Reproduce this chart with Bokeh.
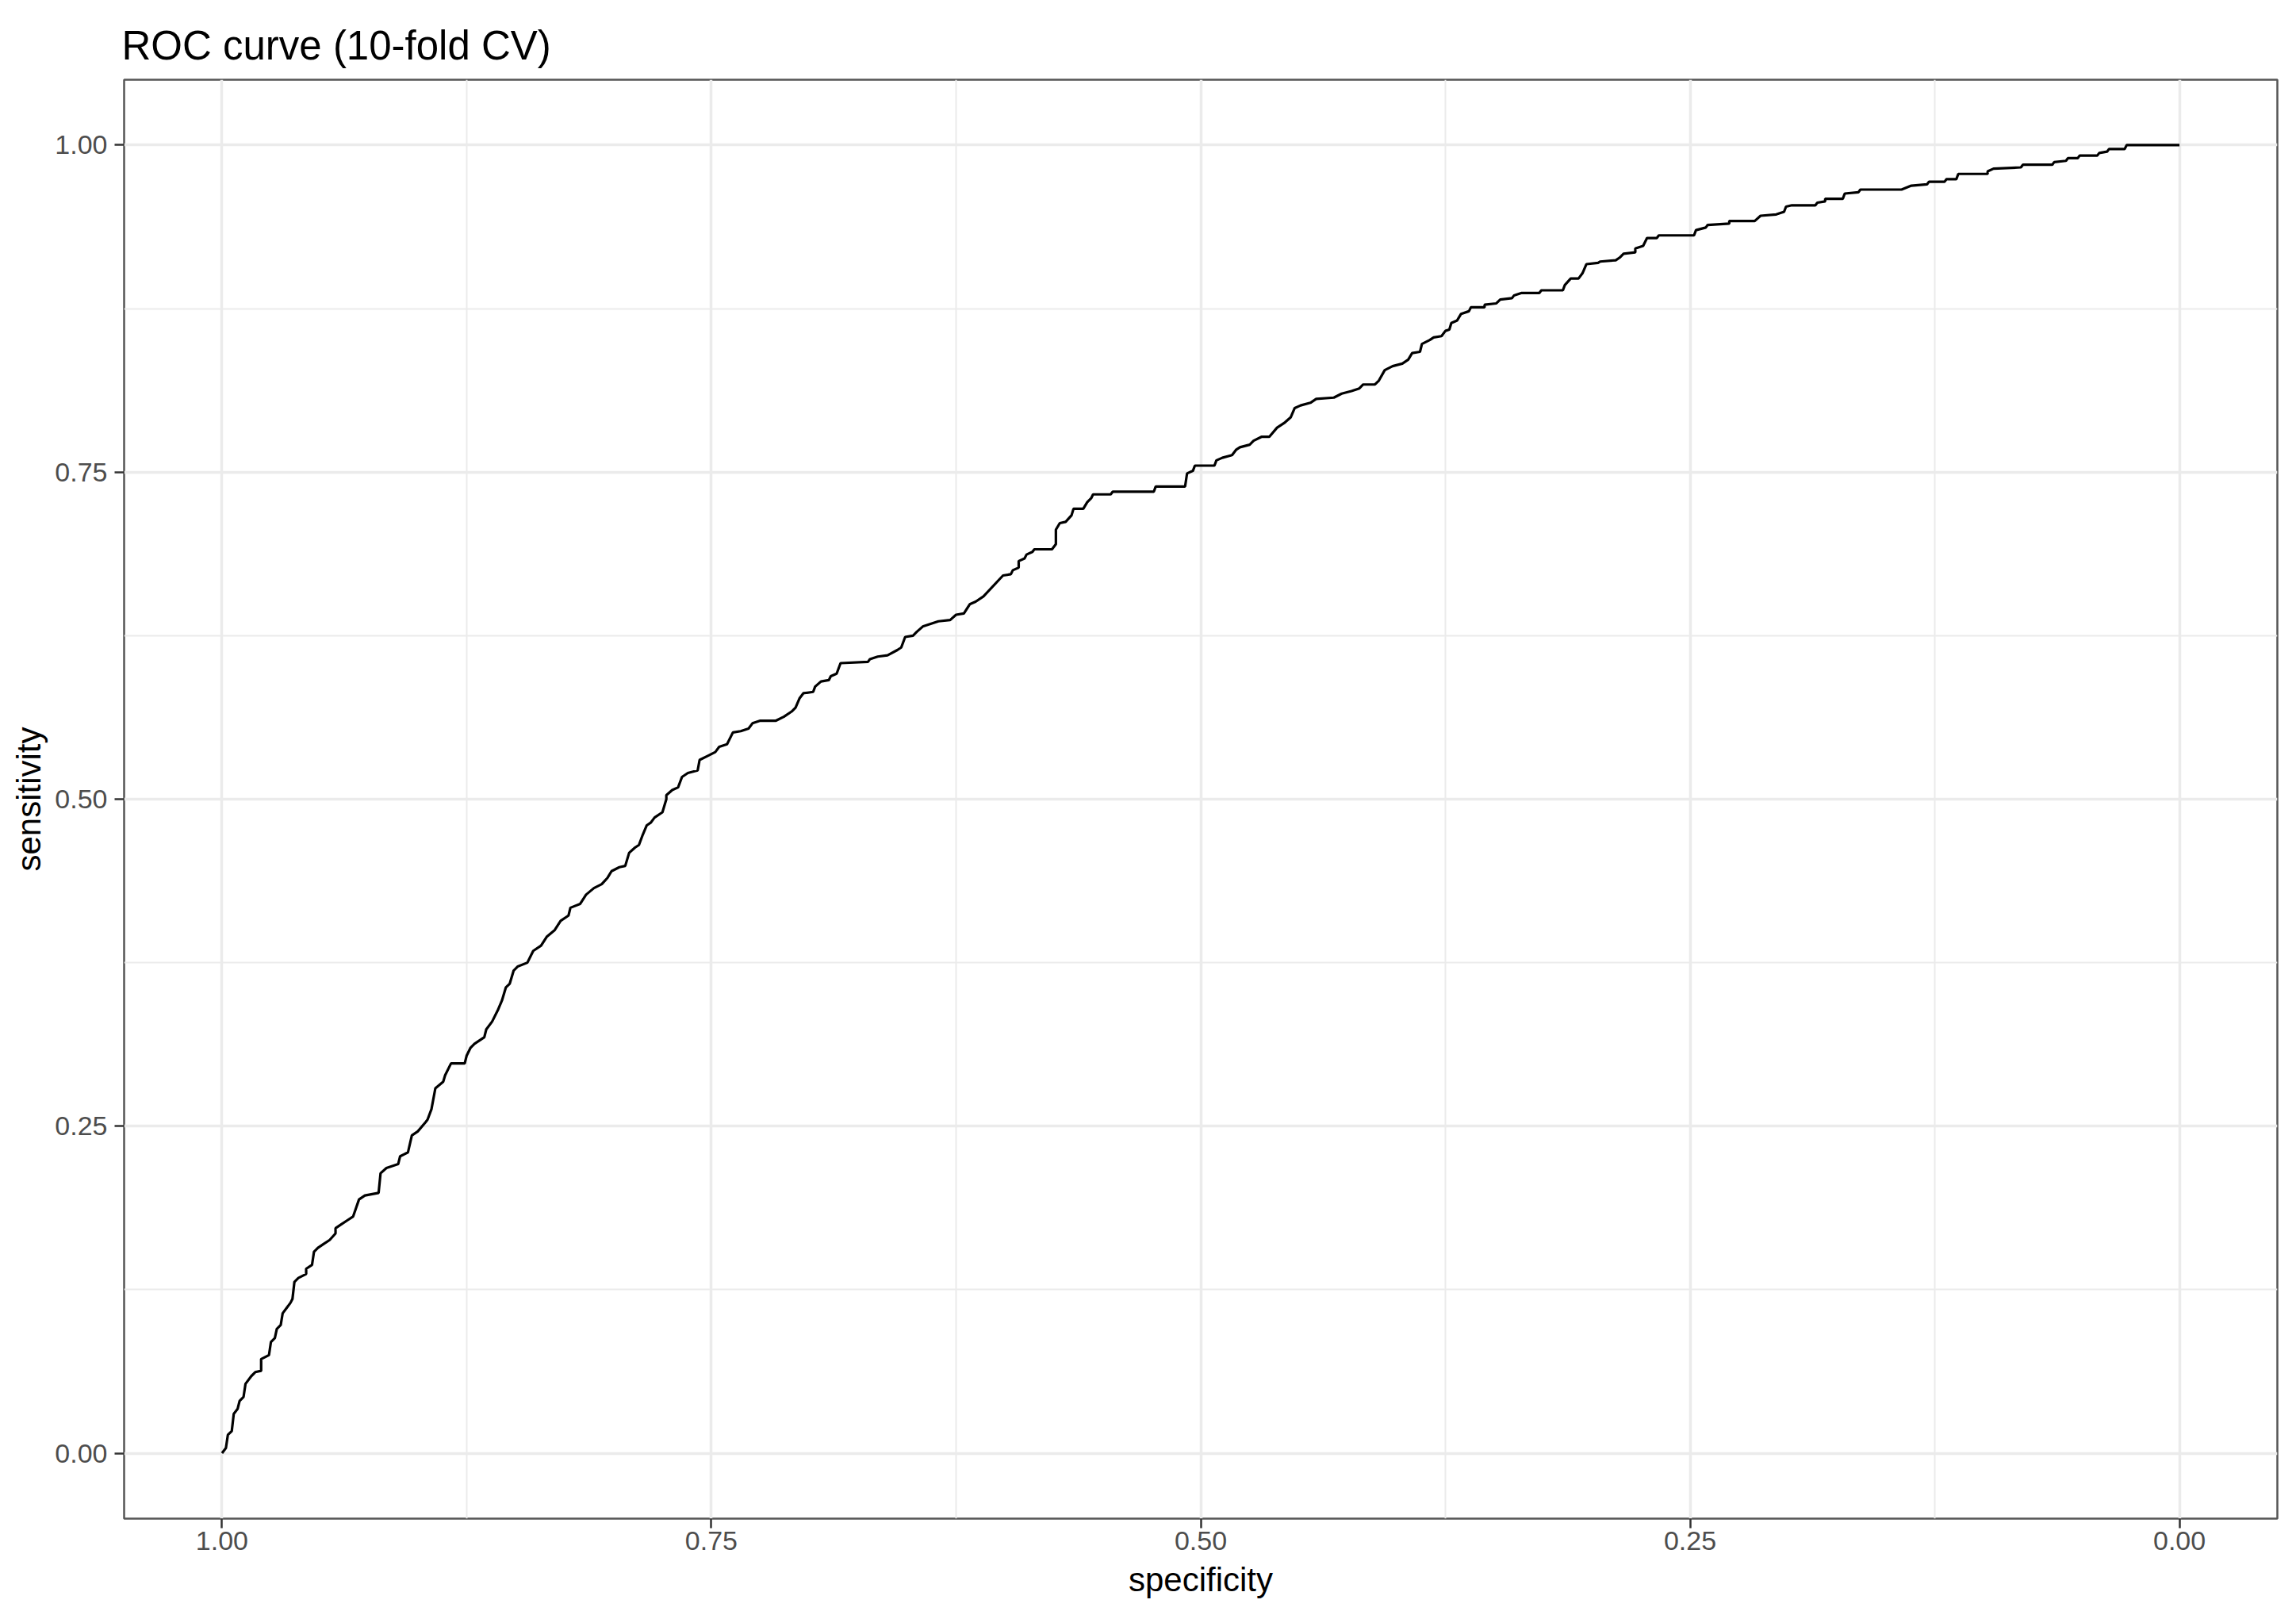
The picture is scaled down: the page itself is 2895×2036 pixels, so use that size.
from bokeh.plotting import figure
from bokeh.models import Range1d, FixedTicker, NumeralTickFormatter
from bokeh.embed import file_html
from bokeh.resources import INLINE

# ROC curve corner points (specificity decreasing)
specificity = [
    1.000, 0.998, 0.997, 0.995, 0.994, 0.992, 0.991, 0.989, 0.988, 0.985,
    0.983, 0.980, 0.980, 0.976, 0.975, 0.973, 0.972, 0.970, 0.969, 0.967,
    0.965, 0.964, 0.963, 0.961, 0.957, 0.957, 0.954, 0.953, 0.951, 0.948,
    0.945, 0.942, 0.942, 0.939, 0.936, 0.933, 0.930, 0.927, 0.920, 0.919,
    0.916, 0.910, 0.909, 0.905, 0.903, 0.900, 0.896, 0.895, 0.893, 0.891,
    0.887, 0.886, 0.883, 0.876, 0.875, 0.873, 0.871, 0.866, 0.865, 0.862,
    0.859, 0.857, 0.855, 0.853, 0.851, 0.849, 0.844, 0.841, 0.837, 0.834,
    0.830, 0.827, 0.823, 0.822, 0.817, 0.814, 0.810, 0.806, 0.803,
    0.801, 0.797, 0.794, 0.792, 0.789, 0.787, 0.785, 0.783, 0.781, 0.779,
    0.775, 0.773, 0.773, 0.770, 0.767, 0.765, 0.762, 0.757, 0.756, 0.752,
    0.748, 0.746, 0.742, 0.739, 0.735, 0.731, 0.729, 0.725, 0.717, 0.713,
    0.709, 0.707, 0.705, 0.703, 0.698, 0.697, 0.694, 0.690, 0.689, 0.686,
    0.684, 0.670, 0.669, 0.665, 0.660, 0.655, 0.653, 0.651, 0.647, 0.645,
    0.642, 0.638, 0.634, 0.628, 0.625, 0.621, 0.618, 0.615, 0.611,
    0.601, 0.597, 0.596, 0.593, 0.593, 0.590, 0.589, 0.586, 0.585, 0.576,
    0.574, 0.574, 0.572, 0.569, 0.566, 0.565, 0.560, 0.558, 0.556, 0.555,
    0.546, 0.545, 0.524, 0.523, 0.508, 0.507, 0.504, 0.503, 0.493, 0.492,
    0.489, 0.484, 0.482, 0.480, 0.475, 0.473, 0.469, 0.465, 0.461, 0.457,
    0.454, 0.452, 0.449, 0.444, 0.441, 0.432, 0.428, 0.423, 0.419, 0.417,
    0.411, 0.409, 0.406, 0.402, 0.397, 0.394,
    0.392, 0.388, 0.387, 0.383, 0.381, 0.377, 0.375, 0.373, 0.372, 0.369,
    0.367, 0.363, 0.362, 0.355, 0.355, 0.349, 0.347, 0.341, 0.340, 0.336,
    0.327, 0.326, 0.315, 0.314, 0.311, 0.307, 0.305, 0.303, 0.297, 0.296,
    0.288, 0.286, 0.284, 0.278, 0.278, 0.274, 0.272, 0.267, 0.266, 0.248,
    0.247, 0.242, 0.241, 0.230, 0.230, 0.217, 0.214, 0.206, 0.202, 0.201,
    0.198,
    0.186, 0.185, 0.181, 0.181, 0.172, 0.171, 0.164, 0.163, 0.158, 0.142,
    0.137, 0.129, 0.128, 0.120, 0.119, 0.114, 0.113, 0.098, 0.098, 0.095,
    0.081, 0.080, 0.065, 0.064, 0.058, 0.057, 0.052, 0.051, 0.042, 0.041,
    0.037, 0.036, 0.028, 0.027, 0.000,
]
sensitivity = [
    0.000, 0.004, 0.014, 0.017, 0.030, 0.034, 0.040, 0.043, 0.053, 0.059,
    0.062, 0.063, 0.072, 0.075, 0.085, 0.088, 0.095, 0.098, 0.107, 0.111,
    0.115, 0.118, 0.131, 0.134, 0.137, 0.141, 0.144, 0.154, 0.157, 0.160,
    0.163, 0.168, 0.172, 0.175, 0.178, 0.181, 0.194, 0.197, 0.199, 0.214,
    0.218, 0.221, 0.227, 0.230, 0.243, 0.246, 0.253, 0.255, 0.263, 0.279,
    0.284, 0.289, 0.298, 0.298, 0.304, 0.310, 0.313, 0.318, 0.324, 0.330,
    0.339, 0.346, 0.356, 0.359, 0.369, 0.372, 0.375, 0.384, 0.388, 0.395,
    0.400, 0.407, 0.411, 0.417, 0.420, 0.427, 0.432, 0.435, 0.440,
    0.445, 0.448, 0.449, 0.459, 0.463, 0.465, 0.473, 0.480, 0.482, 0.486,
    0.490, 0.500, 0.503, 0.507, 0.509, 0.517, 0.520, 0.522, 0.530, 0.533,
    0.536, 0.540, 0.542, 0.551, 0.552, 0.554, 0.558, 0.560, 0.560, 0.563,
    0.567, 0.570, 0.577, 0.581, 0.582, 0.586, 0.590, 0.591, 0.594, 0.596,
    0.604, 0.605, 0.607, 0.609, 0.610, 0.614, 0.616, 0.624, 0.625, 0.628,
    0.632, 0.634, 0.636, 0.637, 0.641, 0.642, 0.649, 0.651, 0.655,
    0.671, 0.672, 0.675, 0.677, 0.682, 0.684, 0.687, 0.689, 0.691, 0.691,
    0.695, 0.706, 0.711, 0.712, 0.717, 0.722, 0.722, 0.727, 0.730, 0.733,
    0.733, 0.735, 0.735, 0.739, 0.739, 0.749, 0.751, 0.755, 0.755, 0.759,
    0.761, 0.763, 0.767, 0.769, 0.771, 0.774, 0.777, 0.777, 0.784, 0.788,
    0.792, 0.799, 0.801, 0.803, 0.806, 0.807, 0.810, 0.812, 0.814, 0.817,
    0.817, 0.820, 0.828, 0.831, 0.833, 0.836,
    0.841, 0.842, 0.848, 0.851, 0.853, 0.854, 0.858, 0.859, 0.864, 0.866,
    0.871, 0.873, 0.876, 0.876, 0.878, 0.879, 0.882, 0.883, 0.885, 0.887,
    0.887, 0.889, 0.889, 0.893, 0.898, 0.898, 0.902, 0.909, 0.910, 0.911,
    0.912, 0.914, 0.917, 0.918, 0.921, 0.923, 0.929, 0.929, 0.931, 0.931,
    0.935, 0.937, 0.939, 0.940, 0.942, 0.942, 0.946, 0.947, 0.949, 0.953,
    0.954,
    0.954, 0.956, 0.957, 0.959, 0.959, 0.963, 0.964, 0.966, 0.966, 0.966,
    0.969, 0.970, 0.972, 0.972, 0.974, 0.974, 0.978, 0.978, 0.980, 0.982,
    0.983, 0.985, 0.985, 0.987, 0.988, 0.990, 0.990, 0.992, 0.992, 0.994,
    0.995, 0.997, 0.997, 1.000, 1.000,
]

major_ticks = [0.0, 0.25, 0.5, 0.75, 1.0]
minor_ticks = [0.125, 0.375, 0.625, 0.875]

FONT = "Liberation Sans"

p = figure(
    width=2879, height=2020,
    x_range=Range1d(1.05, -0.05), y_range=Range1d(-0.05, 1.05),
    output_backend="svg", toolbar_location=None,
    title="ROC curve (10-fold CV)",
    min_border_left=156, min_border_right=8,
    min_border_top=100, min_border_bottom=106,
    x_axis_label="specificity", y_axis_label="sensitivity",
)
p.background_fill_color = "white"
p.border_fill_color = "white"
p.outline_line_color = "#555555"
p.outline_line_width = 2.5

p.title.text_font = FONT
p.title.text_font_size = "51px"
p.title.text_font_style = "normal"
p.title.text_color = "black"
p.title.align = "left"
p.title.offset = -3
p.title.standoff = 30

for ax in (p.xaxis[0], p.yaxis[0]):
    ax.ticker = FixedTicker(ticks=major_ticks, minor_ticks=minor_ticks)
    ax.formatter = NumeralTickFormatter(format="0.00")
    ax.axis_line_color = None
    ax.major_tick_line_color = "#333333"
    ax.major_tick_line_width = 2.5
    ax.major_tick_out = 12
    ax.major_tick_in = 0
    ax.minor_tick_line_color = None
    ax.major_label_text_font = FONT
    ax.major_label_text_font_size = "34px"
    ax.major_label_text_color = "#4D4D4D"
    ax.axis_label_text_font = FONT
    ax.axis_label_text_font_size = "42px"
    ax.axis_label_text_font_style = "normal"
    ax.axis_label_text_color = "black"

p.xaxis[0].major_label_standoff = 4
p.xaxis[0].axis_label_standoff = 11
p.yaxis[0].major_label_standoff = 9
p.yaxis[0].axis_label_standoff = 6

for g in (p.xgrid[0], p.ygrid[0]):
    g.grid_line_color = "#EBEBEB"
    g.grid_line_width = 3.5
    g.minor_grid_line_color = "#EBEBEB"
    g.minor_grid_line_width = 2

p.line(specificity, sensitivity, line_color="black", line_width=3.2)

open("out.html", "w").write(file_html(p, INLINE))
